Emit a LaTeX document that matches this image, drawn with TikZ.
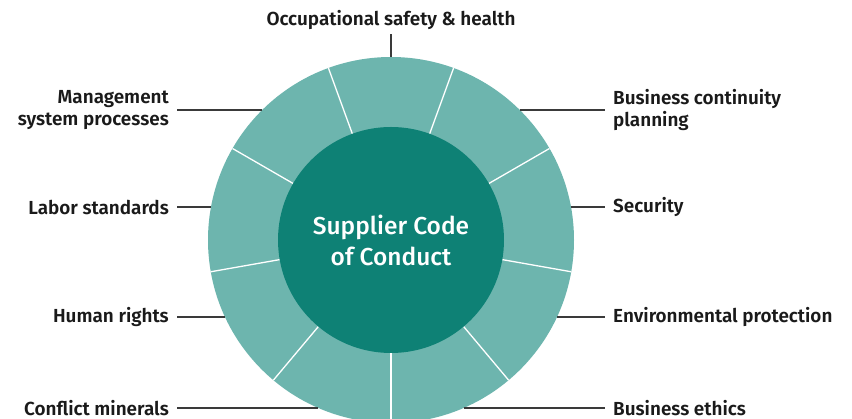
\documentclass[tikz,border=0pt]{standalone}
\usepackage{fontspec}
\setmainfont{Fira Sans}[BoldFont={Fira Sans SemiBold}]
\newfontfamily\corefont{Fira Sans Medium}
\usetikzlibrary{calc}
\definecolor{CoreTeal}{HTML}{0E8175}
\definecolor{RingTeal}{HTML}{6DB5AE}
\definecolor{LeaderGray}{HTML}{3A3A3A}
\definecolor{LabelBlack}{HTML}{1A1A1A}
\tikzset{
  % Ring and core styles
  corecircle/.style={circle, fill=CoreTeal, minimum size=226pt, inner sep=0pt, text=white, align=center, font=\corefont\fontsize{24.5}{31}\selectfont},
  divider/.style={white, line width=1.3pt},
  % Label styles
  rightlabel/.style={anchor=west, inner xsep=8pt, inner ysep=0pt, align=left, text=LabelBlack, font=\fontsize{18.9}{22}\selectfont\bfseries},
  leftlabel/.style={anchor=east, inner xsep=8pt, inner ysep=0pt, align=right, text=LabelBlack, font=\fontsize{18.9}{22}\selectfont\bfseries},
  toplabel/.style={anchor=base, text=LabelBlack, font=\fontsize{18.9}{22}\selectfont\bfseries},
  % Connector style
  leader/.style={LeaderGray, line width=1.3pt}
}

\begin{document}
\begin{tikzpicture}[x=1pt, y=1pt]
  \clip (0,0) rectangle (852,419);
  \coordinate (centre) at (391,179);

  % Outer ring, nine segments
  \fill[RingTeal] (centre) circle (183pt);
  \foreach \ang in {-90,-50,...,230}
    \draw[divider] ($(centre)+(\ang:113)$) -- ($(centre)+(\ang:183)$);

  % Core
  \node[corecircle] (core) at (centre) {Supplier Code\\of Conduct};

  % Points on the ring where the leaders start
  \coordinate (top-r) at ($(centre)+(90:183)$);
  \coordinate (bcp-r) at ($(centre)+({asin(130/183)}:183)$);
  \coordinate (sec-r) at ($(centre)+({asin(33/183)}:183)$);
  \coordinate (env-r) at ($(centre)+({asin(-77/183)}:183)$);
  \coordinate (eth-r) at ($(centre)+({asin(-168/183)}:183)$);
  \coordinate (msp-r) at ($(centre)+({180-asin(130/183)}:183)$);
  \coordinate (lab-r) at ($(centre)+({180-asin(33/183)}:183)$);
  \coordinate (hum-r) at ($(centre)+({180+asin(77/183)}:183)$);
  \coordinate (cfm-r) at ($(centre)+({180+asin(168/183)}:183)$);

  % Labels
  \node[toplabel] (ohs) at (391,393) {Occupational safety \& health};
  \node[rightlabel] (bcp) at (605,0 |- bcp-r) {Business continuity\\planning};
  \node[rightlabel] (sec) at (605,0 |- sec-r) {Security};
  \node[rightlabel] (env) at (605,0 |- env-r) {Environmental protection};
  \node[rightlabel] (eth) at (605,0 |- eth-r) {Business ethics};
  \node[leftlabel] (msp) at (177,0 |- msp-r) {Management\\system processes};
  \node[leftlabel] (lab) at (177,0 |- lab-r) {Labor standards};
  \node[leftlabel] (hum) at (177,0 |- hum-r) {Human rights};
  \node[leftlabel] (cfm) at (177,0 |- cfm-r) {Conflict minerals};

  % Leaders
  \draw[leader] (top-r) -- (ohs.south);
  \draw[leader] (bcp-r) -- (bcp.west);
  \draw[leader] (sec-r) -- (sec.west);
  \draw[leader] (env-r) -- (env.west);
  \draw[leader] (eth-r) -- (eth.west);
  \draw[leader] (msp-r) -- (msp.east);
  \draw[leader] (lab-r) -- (lab.east);
  \draw[leader] (hum-r) -- (hum.east);
  \draw[leader] (cfm-r) -- (cfm.east);
\end{tikzpicture}
\end{document}
